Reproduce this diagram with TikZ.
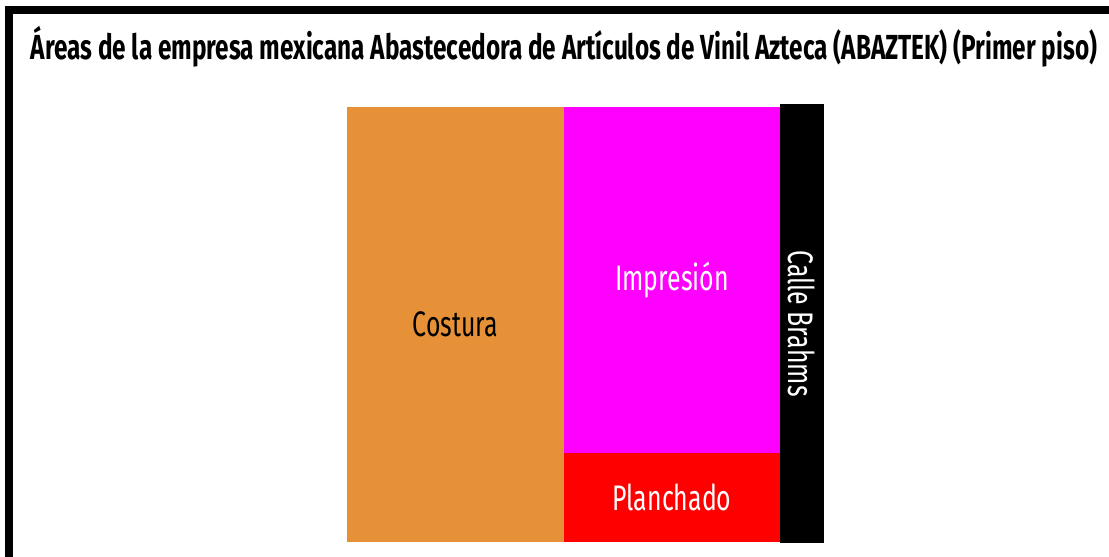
\documentclass[tikz,border=0pt]{standalone}
\usepackage{fontspec}
\newfontfamily\planofont[FakeStretch=0.7]{Fira Sans}
\definecolor{naranja}{HTML}{E69138}
\definecolor{rosa}{HTML}{FF00FF}
\definecolor{rojo}{HTML}{FF0000}
\tikzset{
  area/.style={rectangle, inner sep=0pt, outer sep=0pt, font=\planofont\fontsize{35.5}{40}\selectfont},
  titulo/.style={inner sep=0pt, font=\planofont\bfseries\fontsize{34.8}{40}\selectfont}
}
\begin{document}
\begin{tikzpicture}[x=1pt, y=-1pt]
            \useasboundingbox (0,0) rectangle (1109,557);
            \draw[line width=8pt, line join=miter] (9,560) -- (9,10) -- (1112,10);
            \node[titulo](titulo) at (564,47) {Áreas de la empresa mexicana Abastecedora de Artículos de Vinil Azteca (ABAZTEK) (Primer piso)};
            \node[area, fill=naranja, minimum width=217pt, minimum height=435pt](costura) at (455.5,324.5) {Costura};
            \node[area, fill=rosa, text=white, minimum width=216pt, minimum height=346pt](impresion) at (672,280) {Impresión};
            \node[area, fill=rojo, text=white, minimum width=216pt, minimum height=89pt](planchado) at (672,497.5) {Planchado};
            \node[area, fill=black, text=white, minimum width=44pt, minimum height=439pt](calle) at (802,323.5) {};
            \node[area, text=white, rotate=-90](nombrecalle) at (calle.center) {Calle Brahms};
        \end{tikzpicture}
\end{document}
